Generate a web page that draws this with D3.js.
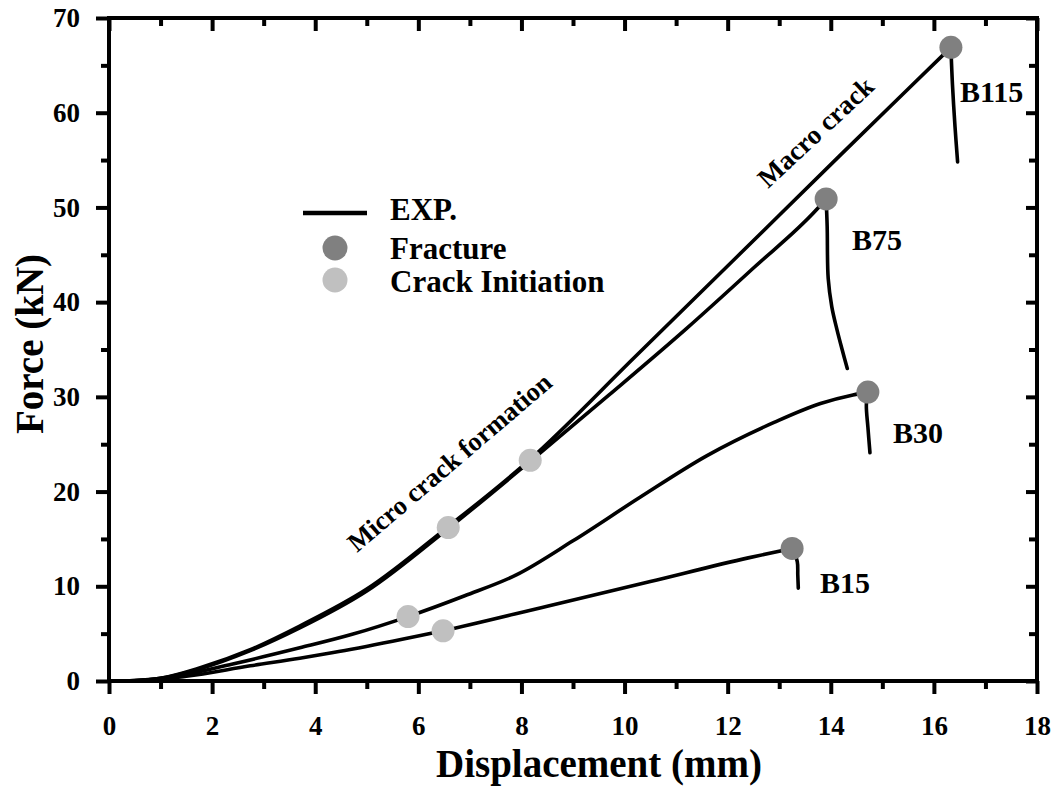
<!DOCTYPE html>
<html>
<head>
<meta charset="utf-8">
<script src="https://cdn.jsdelivr.net/npm/d3@7/dist/d3.min.js"></script>
<style>
  html, body { margin: 0; padding: 0; background: #fff; }
  svg { display: block; }
  text { font-family: "Liberation Serif", "Times New Roman", serif; font-weight: bold; fill: #000; }
</style>
</head>
<body>
<svg id="chart" width="1063" height="787"></svg>
<script>
// Axis ticks
const xMajorTicks = [0, 2, 4, 6, 8, 10, 12, 14, 16, 18];
const xMinorTicks = [1, 3, 5, 7, 9, 11, 13, 15, 17];
const yMajorTicks = [0, 10, 20, 30, 40, 50, 60, 70];
const yMinorTicks = [5, 15, 25, 35, 45, 55, 65];

// Specimen names
const specimens = ["B115", "B75", "B30", "B15"];

// Loading branch of each force–displacement curve: [displacement (mm), force (kN)]
const riseB115 = [[0,0],[0.5,0.05],[1,0.3],[1.77,1.4],[2.74,3.3],[3.7,5.8],[5.0,9.7],[6.58,16.3],[8.17,23.4],[10.2,34.2],[12.24,45.1],[14.2,55.6],[15.5,62.5],[16.33,66.9]];
const riseB75  = [[0,0],[0.5,0.05],[1,0.28],[1.77,1.3],[2.74,3.2],[3.7,5.6],[5.0,9.5],[6.58,16.1],[8.17,23.2],[9.7,30.2],[11.2,37.2],[12.5,43.6],[13.73,49.8],[13.91,50.9]];
const riseB30  = [[0,0],[0.6,0.05],[1.2,0.4],[2.4,1.8],[3.7,3.5],[4.7,4.9],[5.8,6.8],[6.9,9.0],[7.9,11.2],[9.0,14.8],[10.3,19.4],[11.6,23.8],[12.9,27.3],[13.8,29.3],[14.43,30.2],[14.72,30.5]];
const riseB15  = [[0,0],[0.7,0.05],[1.5,0.5],[2.74,1.6],[3.7,2.4],[4.35,3.0],[5.5,4.2],[6.48,5.3],[8.5,7.9],[10.5,10.5],[12.4,13.0],[13.25,14.0]];

// Post-peak drop after fracture
const dropB115 = [[16.33,66.9],[16.36,63.0],[16.41,58.5],[16.46,54.8]];
const dropB75  = [[13.91,50.9],[13.93,48.0],[13.95,42.5],[14.02,39.5],[14.12,37.1],[14.22,35.0],[14.32,33.0]];
const dropB30  = [[14.72,30.5],[14.69,29.1],[14.72,26.8],[14.76,24.1]];
const dropB15  = [[13.25,14.0],[13.35,12.6],[13.36,11.2],[13.37,9.8]];

// Fracture points (peak) and crack initiation points
const fracturePts = [[16.33,66.9],[13.91,50.9],[14.72,30.5],[13.25,14.0]];
const crackInitPts = [[6.58,16.2],[8.17,23.3],[5.80,6.8],[6.48,5.3]];

const legendLabels = ["EXP.", "Fracture", "Crack Initiation"];

const svg = d3.select("#chart");
const plotL = 109, plotR = 1037, plotT = 18, plotB = 681;

const x = d3.scaleLinear().domain([0, 18]).range([plotL, plotR]);
const y = d3.scaleLinear().domain([0, 70]).range([plotB, plotT]);

const FRACTURE = "#808080", CRACK = "#c0c0c0";

// ---- axes ----
function styleAxis(g) {
  g.select(".domain").remove();
  g.selectAll(".tick line").attr("stroke", "#000").attr("stroke-width", 4);
  g.selectAll(".tick text").style("font-size", "27px").attr("fill", "#000");
}
svg.append("g").attr("transform", `translate(0,${plotB})`)
  .call(d3.axisBottom(x).tickValues(xMajorTicks).tickSize(13).tickPadding(22).tickFormat(d3.format("d")))
  .call(styleAxis);
svg.append("g").attr("transform", `translate(0,${plotB})`)
  .call(d3.axisBottom(x).tickValues(xMinorTicks).tickSize(8).tickFormat(""))
  .call(styleAxis);
svg.append("g").attr("transform", `translate(${plotL},0)`)
  .call(d3.axisLeft(y).tickValues(yMajorTicks).tickSize(13).tickPadding(16).tickFormat(d3.format("d")))
  .call(styleAxis);
svg.append("g").attr("transform", `translate(${plotL},0)`)
  .call(d3.axisLeft(y).tickValues(yMinorTicks).tickSize(8).tickFormat(""))
  .call(styleAxis);
// inward ticks on top and right
svg.append("g").attr("transform", `translate(0,${plotT})`)
  .call(d3.axisTop(x).tickValues(xMajorTicks).tickSize(-13).tickFormat(""))
  .call(styleAxis);
svg.append("g").attr("transform", `translate(0,${plotT})`)
  .call(d3.axisTop(x).tickValues(xMinorTicks).tickSize(-8).tickFormat(""))
  .call(styleAxis);
svg.append("g").attr("transform", `translate(${plotR},0)`)
  .call(d3.axisRight(y).tickValues(yMajorTicks).tickSize(-11).tickFormat(""))
  .call(styleAxis);
svg.append("g").attr("transform", `translate(${plotR},0)`)
  .call(d3.axisRight(y).tickValues(yMinorTicks).tickSize(-8).tickFormat(""))
  .call(styleAxis);

// frame
svg.append("rect")
  .attr("x", plotL).attr("y", plotT)
  .attr("width", plotR - plotL).attr("height", plotB - plotT)
  .attr("fill", "none").attr("stroke", "#000").attr("stroke-width", 4);

// axis titles
svg.append("text").attr("x", 599).attr("y", 777)
  .attr("text-anchor", "middle").style("font-size", "39px")
  .text("Displacement (mm)");
svg.append("text")
  .attr("transform", "translate(43,344) rotate(-90)")
  .attr("text-anchor", "middle").style("font-size", "39px")
  .text("Force (kN)");

// ---- curves ----
const riseLine = d3.line().x(d => x(d[0])).y(d => y(d[1])).curve(d3.curveMonotoneX);
const dropLine = d3.line().x(d => x(d[0])).y(d => y(d[1])).curve(d3.curveCatmullRom.alpha(0.5));

const curves = svg.append("g").attr("fill", "none").attr("stroke", "#000")
  .attr("stroke-width", 3.6).attr("stroke-linecap", "round").attr("stroke-linejoin", "round");
[riseB115, riseB75, riseB30, riseB15].forEach(r => curves.append("path").attr("d", riseLine(r)));
[dropB115, dropB75, dropB30, dropB15].forEach(r => curves.append("path").attr("d", dropLine(r)));

// markers
svg.append("g").selectAll("circle").data(crackInitPts).join("circle")
  .attr("cx", d => x(d[0])).attr("cy", d => y(d[1])).attr("r", 11.5).attr("fill", CRACK);
svg.append("g").selectAll("circle").data(fracturePts).join("circle")
  .attr("cx", d => x(d[0])).attr("cy", d => y(d[1])).attr("r", 11.5).attr("fill", FRACTURE);

// specimen labels
const labelPos = [[960, 102], [852, 250], [893, 443], [820, 593]];
svg.append("g").selectAll("text").data(specimens).join("text")
  .attr("x", (d, i) => labelPos[i][0]).attr("y", (d, i) => labelPos[i][1])
  .style("font-size", "30px").text(d => d);

// stage annotations along the curves
svg.append("text").attr("transform", "translate(357,553) rotate(-40.5)")
  .style("font-size", "26.5px").text("Micro crack formation");
svg.append("text").attr("transform", "translate(768,189) rotate(-43)")
  .style("font-size", "27px").text("Macro crack");

// ---- legend ----
const lg = svg.append("g");
lg.append("line").attr("x1", 303).attr("x2", 367).attr("y1", 213).attr("y2", 213)
  .attr("stroke", "#000").attr("stroke-width", 4.5);
lg.append("circle").attr("cx", 335).attr("cy", 248).attr("r", 12.5).attr("fill", FRACTURE);
lg.append("circle").attr("cx", 335).attr("cy", 280).attr("r", 12.5).attr("fill", CRACK);
const legY = [220, 259, 292];
lg.selectAll("text").data(legendLabels).join("text")
  .attr("x", 390).attr("y", (d, i) => legY[i])
  .style("font-size", "31px").text(d => d);
</script>
</body>
</html>
